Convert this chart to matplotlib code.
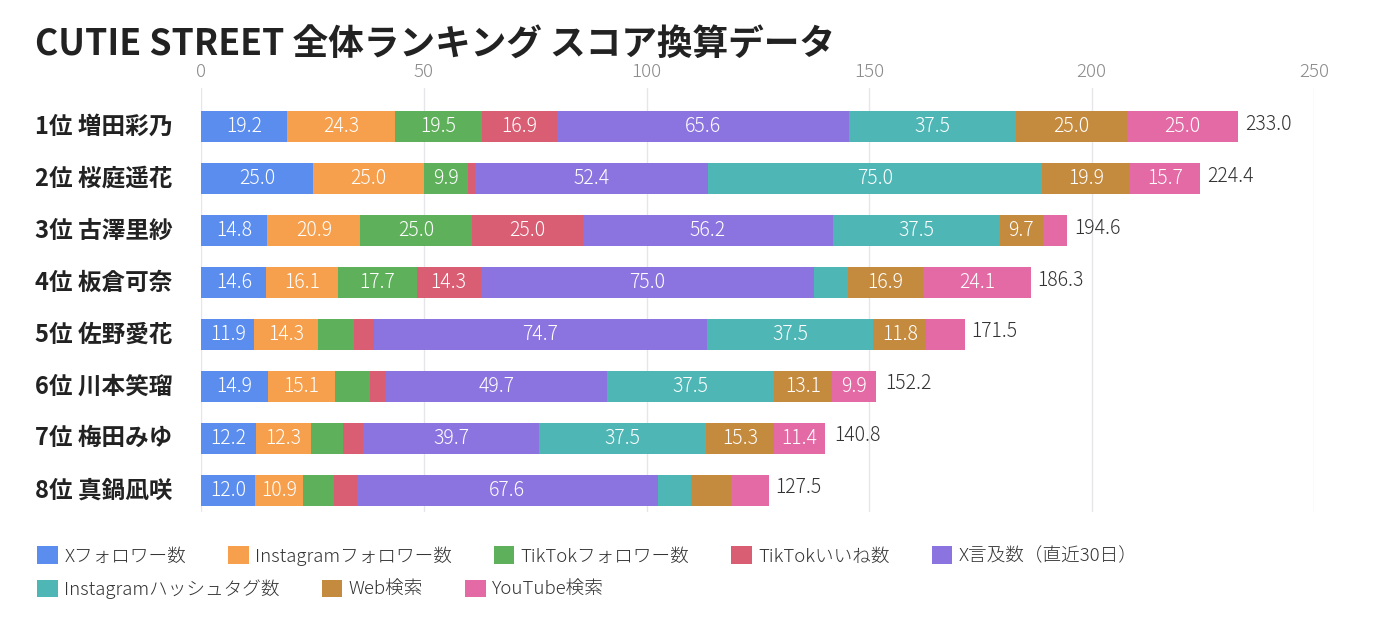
import matplotlib
matplotlib.use('Agg')
import matplotlib.pyplot as plt
import matplotlib.transforms as mtransforms
import numpy as np

plt.rcParams['font.family'] = ['Noto Sans CJK JP', 'DejaVu Sans']

# data
members = ['1位 増田彩乃', '2位 桜庭遥花', '3位 古澤里紗', '4位 板倉可奈',
           '5位 佐野愛花', '6位 川本笑瑠', '7位 梅田みゆ', '8位 真鍋凪咲']
categories = ['Xフォロワー数', 'Instagramフォロワー数', 'TikTokフォロワー数', 'TikTokいいね数',
              'X言及数（直近30日）', 'Instagramハッシュタグ数', 'Web検索', 'YouTube検索']
x_followers = [19.2, 25.0, 14.8, 14.6, 11.9, 14.9, 12.2, 12.0]
insta_followers = [24.3, 25.0, 20.9, 16.1, 14.3, 15.1, 12.3, 10.9]
tiktok_followers = [19.5, 9.9, 25.0, 17.7, 8.1, 7.8, 7.3, 6.9]
tiktok_likes = [16.9, 1.5, 25.0, 14.3, 4.5, 3.6, 4.4, 5.1]
x_mentions = [65.6, 52.4, 56.2, 75.0, 74.7, 49.7, 39.7, 67.6]
insta_hashtags = [37.5, 75.0, 37.5, 7.6, 37.5, 37.5, 37.5, 7.4]
web_search = [25.0, 19.9, 9.7, 16.9, 11.8, 13.1, 15.3, 9.1]
youtube_search = [25.0, 15.7, 5.5, 24.1, 8.7, 9.9, 11.4, 8.5]
totals = [233.0, 224.4, 194.6, 186.3, 171.5, 152.2, 140.8, 127.5]

series = [x_followers, insta_followers, tiktok_followers, tiktok_likes,
          x_mentions, insta_hashtags, web_search, youtube_search]
colors = ['#5B8DEE', '#F6A04E', '#5FB05B', '#D95D73',
          '#8C74E0', '#4FB6B6', '#C48A3E', '#E46AA5']

fig = plt.figure(figsize=(13.91, 6.35), dpi=100)
ax = fig.add_axes([201.5 / 1391, 1 - 512 / 635, (1314 - 201.5) / 1391, (512 - 88) / 635])

y = np.arange(len(members))
left = np.zeros(len(members))
handles = []
for vals, col, name in zip(series, colors, categories):
    vals = np.array(vals)
    bars = ax.barh(y, vals, left=left, height=0.6, color=col, label=name, zorder=2)
    handles.append(bars)
    # only segments wide enough get a label
    for yi, l, v in zip(y, left, vals):
        if v >= 9.5:
            ax.text(l + v / 2, yi, f'{v:.1f}', ha='center', va='center',
                    color='white', fontsize=14, fontweight='light', zorder=3)
    left += vals

for yi, t in zip(y, totals):
    ax.text(t + 1.5, yi - 0.05, f'{t:.1f}', ha='left', va='center',
            color='#333333', fontsize=14, fontweight='light')

ax.set_xlim(0, 250)
ax.set_ylim(7.42, -0.75)
ax.set_xticks([0, 50, 100, 150, 200, 250])
ax.xaxis.tick_top()
ax.tick_params(axis='x', length=0, pad=5, labelsize=13.5, labelcolor='#8a8a8a')
for lab in ax.get_xticklabels():
    lab.set_fontweight('light')
ax.set_yticks([])
ax.grid(axis='x', color='#e6e6ea', linewidth=1, zorder=0)
for s in ax.spines.values():
    s.set_visible(False)

name_trans = mtransforms.blended_transform_factory(fig.transFigure, ax.transData)
for yi, name in zip(y, members):
    ax.text(35 / 1391, yi, name, transform=name_trans,
            ha='left', va='center', fontsize=17, fontweight='bold', color='#222222')

fig.text(35 / 1391, 1 - 45 / 635, 'CUTIE STREET 全体ランキング スコア換算データ',
         ha='left', va='center', fontsize=25.7, fontweight='bold', color='#222222')

leg_kw = dict(frameon=False, handlelength=1.1, handleheight=1.1, handletextpad=0.35,
              columnspacing=2.25, labelcolor='#333333', borderaxespad=0,
              prop={'weight': 'light', 'size': 13.4})
leg1 = fig.legend(handles[:5], categories[:5], ncol=5, loc='center left',
                  bbox_to_anchor=(30 / 1391, 1 - 556 / 635), **leg_kw)
leg2 = fig.legend(handles[5:], categories[5:], ncol=3, loc='center left',
                  bbox_to_anchor=(30 / 1391, 1 - 589 / 635), **leg_kw)

fig.savefig('out.png', dpi=100, facecolor='white')
